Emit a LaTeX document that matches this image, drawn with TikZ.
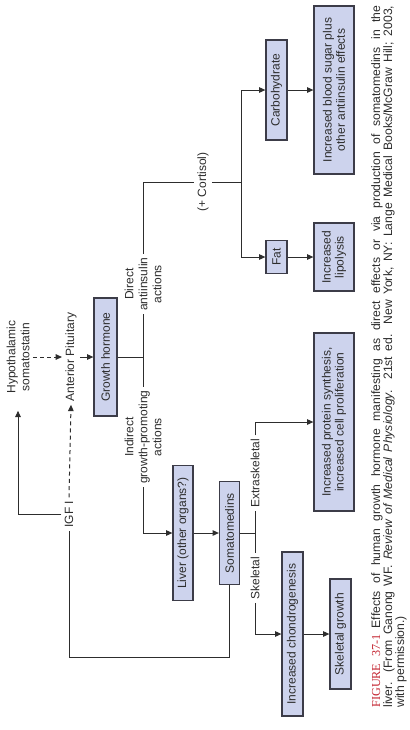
\documentclass[tikz,border=0pt]{standalone}
\usepackage{fontspec}
\setmainfont{Liberation Sans}
\newfontfamily\capserif{Liberation Serif}
\usetikzlibrary{arrows.meta}
\definecolor{boxfill}{RGB}{205,211,237}
\definecolor{boxline}{RGB}{60,60,72}
\definecolor{inkgray}{RGB}{45,45,45}
\definecolor{capred}{RGB}{196,38,50}
\tikzset{
  gbox/.style={draw=boxline,fill=boxfill,line width=0.6pt,rotate=90,
              align=center,inner sep=1pt,font=\fontsize{6}{6.6}\selectfont},
  lbl/.style={rotate=90,align=center,inner sep=1.5pt,font=\fontsize{6}{7}\selectfont},
  link/.style={draw=inkgray,line width=0.5pt},
  flow/.style={link,-{Triangle[length=3.2pt,width=2.8pt]}},
  dflow/.style={flow,dash pattern=on 2pt off 1.6pt},
}
\begin{document}
\begin{tikzpicture}[x=0.5pt,y=-0.5pt,every node/.append style={text=inkgray}]
  \useasboundingbox (0,0) rectangle (410,730);
  % pituitary and growth hormone
  \node[lbl] (hypo) at (18,357) {Hypothalamic\\somatostatin};
  \node[lbl] (ant) at (71,357) {Anterior Pituitary};
  \node[gbox,minimum width=59pt,minimum height=11.5pt] (gh) at (105.5,357) {Growth hormone};
  \node[lbl] (dir) at (143,284) {Direct\\antiinsulin\\actions};
  \node[lbl] (ind) at (143,437) {Indirect\\growth-promoting\\actions};
  \node[lbl] (cort) at (203,182) {(+ Cortisol)};
  \coordinate (j1) at (143,357);
  \coordinate (split) at (241,182);
  % direct effects
  \node[gbox,minimum width=50pt,minimum height=10.5pt] (carb) at (276.5,90) {Carbohydrate};
  \node[gbox,minimum width=84pt,minimum height=20pt] (sugar) at (334,90) {Increased blood sugar plus\\other antiinsulin effects};
  \node[gbox,minimum width=16.5pt,minimum height=10.5pt] (fat) at (276.5,257) {Fat};
  \node[gbox,minimum width=34pt,minimum height=20pt] (lipo) at (334,257) {Increased\\lipolysis};
  % indirect effects
  \node[gbox,minimum width=67.5pt,minimum height=10pt] (liver) at (183,533) {Liver (other organs?)};
  \node[gbox,minimum width=51.5pt,minimum height=10pt] (soma) at (229.5,533) {Somatomedins};
  \node[lbl] (igf) at (69,514) {IGF I};
  \node[lbl] (extra) at (255,473) {Extraskeletal};
  \node[lbl] (skel) at (255,578) {Skeletal};
  \coordinate (j2) at (255,533);
  \coordinate (igfturn) at (229.5,657);
  \node[gbox,minimum width=89pt,minimum height=20pt] (prot) at (334,422) {Increased protein synthesis,\\increased cell proliferation};
  \node[gbox,minimum width=82pt,minimum height=10.5pt] (chondro) at (292.5,634) {Increased chondrogenesis};
  \node[gbox,minimum width=55pt,minimum height=10.5pt] (skelg) at (340.5,634) {Skeletal growth};
  % caption
  \node[rotate=90,anchor=north west,align=left,inner sep=0pt,
        font=\fontsize{6.1}{6}\selectfont] (cap) at (371,708)
    {\makebox[351pt][s]{{\capserif\color{capred}FIGURE 37-1}\enspace Effects of human growth hormone manifesting as direct effects or via production of somatomedins in the}\\
     \makebox[351pt][s]{liver. (From Ganong WF. \textit{Review of Medical Physiology}. 21st ed. New York, NY: Lange Medical Books/McGraw Hill; 2003,}\\
     with permission.)};

  \draw[dflow] (hypo.south) -- (ant.north);
  \draw[flow] (ant.south) -- (gh.north);
  \draw[link] (gh.south) -- (j1) -- (dir.west);
  \draw[link] (j1) -- (ind.east);
  \draw[link] (dir.east) |- (cort.north);
  \draw[link] (cort.south) -- (split);
  \draw[flow] (split) |- (carb.north);
  \draw[flow] (split) |- (fat.north);
  \draw[flow] (carb.south) -- (sugar.north);
  \draw[flow] (fat.south) -- (lipo.north);
  \draw[flow] (ind.west) |- (liver.north);
  \draw[flow] (liver.south) -- (soma.north);
  \draw[link] (soma.south) -- (j2) -- (extra.west);
  \draw[link] (j2) -- (skel.east);
  \draw[flow] (extra.east) |- (prot.north);
  \draw[flow] (skel.west) |- (chondro.north);
  \draw[flow] (chondro.south) -- (skelg.north);
  % feedback by IGF I
  \draw[link] (soma.west) -- (igfturn) -| (igf.west);
  \draw[dflow] (igf.east) -- (ant.west);
  \draw[flow,shorten >=7pt] (igf.north) -| (hypo.west);
\end{tikzpicture}
\end{document}
